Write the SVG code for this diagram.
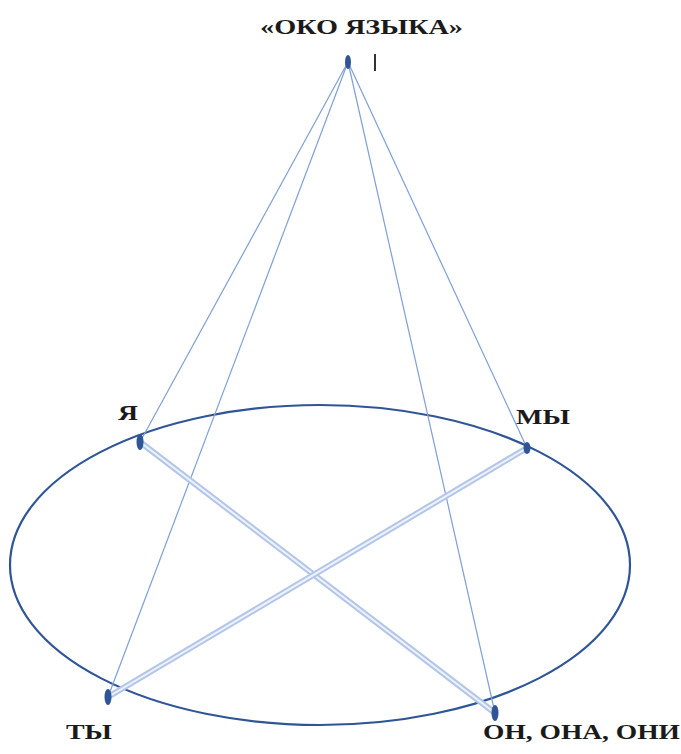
<svg xmlns="http://www.w3.org/2000/svg" width="681" height="754" viewBox="0 0 681 754">
<style>
.lbl{font-family:"Liberation Serif","DejaVu Serif",serif;font-weight:bold;font-size:21px;fill:#1a1a1a}
.thin{stroke:#7f9fd6;stroke-width:1.2;fill:none}
.dblo{stroke:#b3c6e8;stroke-width:6;fill:none}
.dbli{stroke:#eef3fb;stroke-width:2;fill:none}
.dot{fill:#2f5597}
</style>
<rect width="681" height="754" fill="#ffffff"/>
<g id="ellipse">
<ellipse cx="320" cy="565" rx="310" ry="160" fill="none" stroke="#2f5597" stroke-width="2.2"/>
</g>
<g id="connectors">
<line class="thin" x1="348" y1="62" x2="140" y2="442"/>
<line class="thin" x1="348" y1="62" x2="108" y2="697"/>
<line class="thin" x1="348" y1="62" x2="495" y2="713"/>
<line class="thin" x1="348" y1="62" x2="527" y2="448"/>
<line class="dblo" x1="140" y1="442" x2="495" y2="713"/>
<line class="dbli" x1="140" y1="442" x2="495" y2="713"/>
<line class="dblo" x1="108" y1="697" x2="527" y2="448"/>
<line class="dbli" x1="108" y1="697" x2="527" y2="448"/>
</g>
<g id="eye">
<ellipse class="dot" cx="348" cy="62" rx="3" ry="7"/>
<line x1="375" y1="54" x2="375" y2="71" stroke="#333" stroke-width="2"/>
<text class="lbl" x="260" y="34" textLength="203" lengthAdjust="spacingAndGlyphs">«ОКО ЯЗЫКА»</text>
</g>
<g id="ya">
<ellipse class="dot" cx="140" cy="442" rx="3.5" ry="8"/>
<text class="lbl" x="118" y="420" textLength="20" lengthAdjust="spacingAndGlyphs">Я</text>
</g>
<g id="my">
<ellipse class="dot" cx="527" cy="448" rx="3.5" ry="6"/>
<text class="lbl" x="516" y="424" textLength="54" lengthAdjust="spacingAndGlyphs">МЫ</text>
</g>
<g id="ty">
<ellipse class="dot" cx="108" cy="697" rx="3.5" ry="8"/>
<text class="lbl" x="66" y="739" textLength="46" lengthAdjust="spacingAndGlyphs">ТЫ</text>
</g>
<g id="on">
<ellipse class="dot" cx="495" cy="713" rx="3.5" ry="8"/>
<text class="lbl" x="483" y="739" textLength="197" lengthAdjust="spacingAndGlyphs">ОН, ОНА, ОНИ</text>
</g>
</svg>
